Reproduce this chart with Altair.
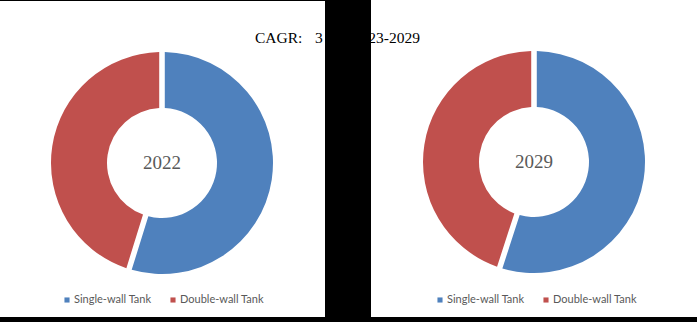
import altair as alt
import pandas as pd

# ---- data ----
years = ["2022", "2029"]
segments = ["Single-wall Tank", "Double-wall Tank"]
share_2022 = [54.8, 45.2]
share_2029 = [55.0, 45.0]
title_parts = ["CAGR:", "3", "23-2029"]

colors = ["#4F81BD", "#C0504D"]
text_grey = "#595959"

rows = []
for yr, shares in zip(years, [share_2022, share_2029]):
    for i, (seg, s) in enumerate(zip(segments, shares)):
        rows.append({"year": yr, "segment": seg, "share": s, "order": i})
df = pd.DataFrame(rows)

W, H = 697, 322
centers = {"2022": (162, 163), "2029": (534, 162)}
R_OUT, R_IN = 111, 55

one = pd.DataFrame({"k": [0]})

# ---- panels (white on black) ----
def panel(x0, x1, y0, y1):
    return alt.Chart(one).mark_rect(color="white").encode(
        x=alt.value(x0), x2=alt.value(x1), y=alt.value(y0), y2=alt.value(y1))

layers = [panel(0, 325, 1, 317), panel(371, W, 0, 317)]

# ---- donuts ----
color_scale = alt.Scale(domain=segments, range=colors)
for yr in years:
    cx, cy = centers[yr]
    layers.append(
        alt.Chart(df).transform_filter(alt.datum.year == yr)
        .mark_arc(innerRadius=R_IN, outerRadius=R_OUT, padAngle=0.045)
        .encode(
            theta=alt.Theta("share:Q", stack=True),
            color=alt.Color("segment:N", scale=color_scale, legend=None),
            order=alt.Order("order:Q"),
            x=alt.value(cx), y=alt.value(cy),
        )
    )
    layers.append(
        alt.Chart(pd.DataFrame({"label": [yr]})).mark_text(
            font="Liberation Serif", fontSize=19, color=text_grey,
            align="center", baseline="middle")
        .encode(text="label:N", x=alt.value(cx), y=alt.value(cy))
    )

# ---- legends ----
for base in (67, 440):
    for i, seg in enumerate(segments):
        sx = base + i * 106
        layers.append(
            alt.Chart(pd.DataFrame({"segment": [seg]})).mark_square(size=26, opacity=1)
            .encode(color=alt.Color("segment:N", scale=color_scale, legend=None),
                    x=alt.value(sx), y=alt.value(300))
        )
        layers.append(
            alt.Chart(pd.DataFrame({"segment": [seg]})).mark_text(
                font="Lato", fontSize=11, color=text_grey, align="left", baseline="middle")
            .encode(text="segment:N", x=alt.value(sx + 7), y=alt.value(300))
        )

# ---- CAGR title fragments ----
title_x = [255, 315, 420]
title_align = ["left", "left", "right"]
for t, tx, al in zip(title_parts, title_x, title_align):
    layers.append(
        alt.Chart(pd.DataFrame({"t": [t]})).mark_text(
            font="Liberation Serif", fontSize=15.5, color="#000000", align=al, baseline="middle")
        .encode(text="t:N", x=alt.value(tx), y=alt.value(38))
    )

chart = alt.layer(*layers).properties(
    width=W, height=H, padding=0, autosize=alt.AutoSizeParams(type="none"),
    background="black",
).configure_view(stroke=None)

chart.save("out.html", embed_options={"renderer": "svg", "actions": False})
